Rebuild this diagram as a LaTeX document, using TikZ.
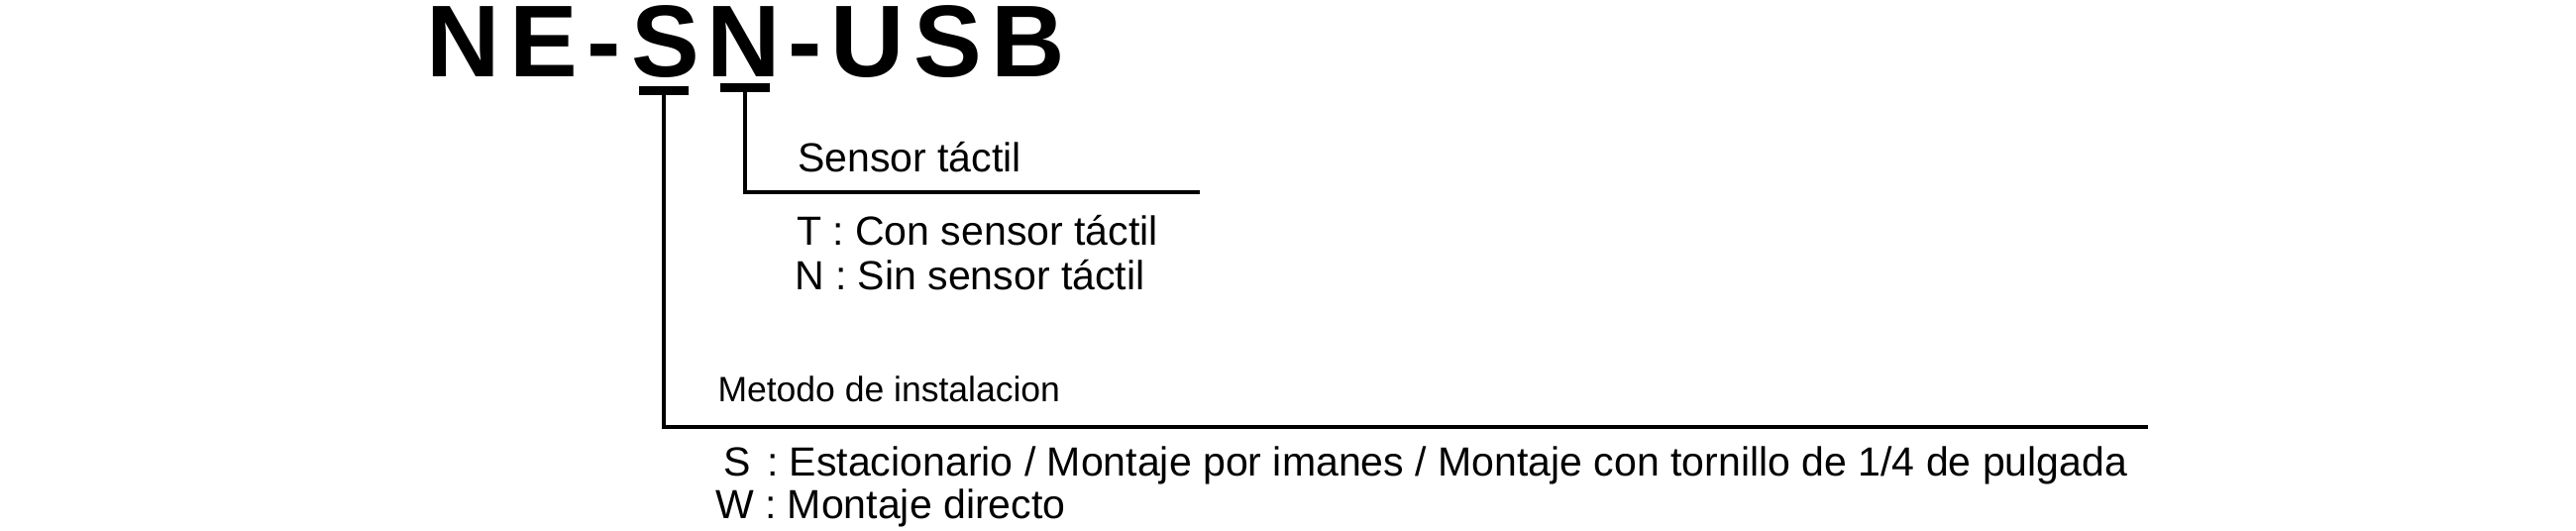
\documentclass[tikz,border=0pt]{standalone}
\usepackage{fontspec}
\setmainfont{Liberation Sans}
\newfontfamily\titlefont[LetterSpace=9]{Liberation Sans}
\begin{document}
\begin{tikzpicture}[x=0.01cm,y=-0.01cm,
  title/.style={anchor=base west,inner sep=0pt,outer sep=0pt,
    font=\titlefont\bfseries\fontsize{29.3pt}{30pt}\selectfont},
  txt/.style={anchor=base west,inner sep=0pt,outer sep=0pt,
    font=\fontsize{11.67pt}{13pt}\selectfont},
  head/.style={anchor=base west,inner sep=0pt,outer sep=0pt,
    font=\fontsize{10.1pt}{12pt}\selectfont},
  bar/.style={fill=black,inner sep=0pt,outer sep=0pt,
    minimum width=0.5cm,minimum height=0.085cm},
  link/.style={line width=0.9pt}
]
\useasboundingbox (0,0) rectangle (2600,535);
% title
\node[title] (tNE) at (430.5,77) {NE-};
\node[title] (tS)  at (637,77) {S};
\node[title] (tN)  at (713.5,77) {N};
\node[title] (tUSB) at (795.5,77) {-USB};
% bars
\node[bar] (barS) at (670,91.5) {};
\node[bar] (barN) at (752,88.5) {};
% connector ends
\coordinate (endN) at (1211,194);
\coordinate (endS) at (2168,431);
\draw[link] (barN.south) |- (endN);
\draw[link] (barS.south) |- (endS);
% labels
\node[txt] (sensor) at (805,173) {Sensor táctil};
\node[txt] (optT) at (804,247) {T : Con sensor táctil};
\node[txt] (optN) at (802,292) {N : Sin sensor táctil};
\node[head] (metodo) at (724.5,405) {Metodo de instalacion};
\node[txt] (optS) at (730,480) {S\kern1.5pt\ : Estacionario / Montaje por imanes / Montaje con tornillo de 1/4 de pulgada};
\node[txt] (optW) at (722,523) {W : Montaje directo};
\end{tikzpicture}
\end{document}
